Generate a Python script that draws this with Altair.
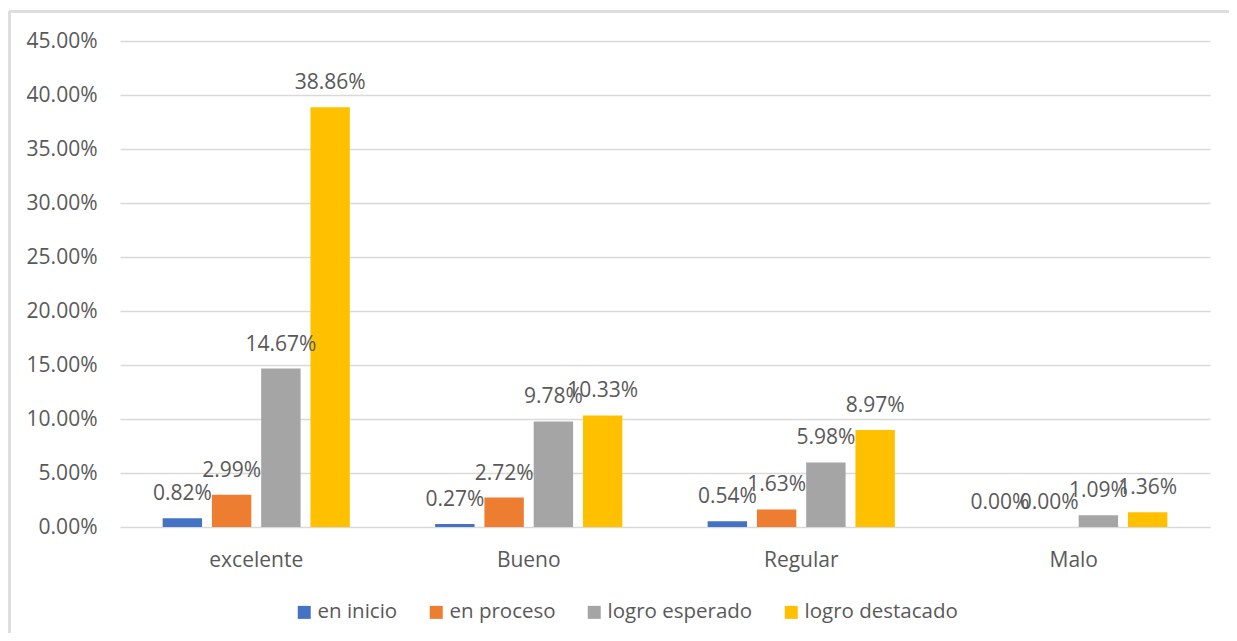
import altair as alt
import pandas as pd

categories = ["excelente", "Bueno", "Regular", "Malo"]
series = ["en inicio", "en proceso", "logro esperado", "logro destacado"]
en_inicio = [0.0082, 0.0027, 0.0054, 0.0]
en_proceso = [0.0299, 0.0272, 0.0163, 0.0]
logro_esperado = [0.1467, 0.0978, 0.0598, 0.0109]
logro_destacado = [0.3886, 0.1033, 0.0897, 0.0136]
colors = ["#4472C4", "#ED7D31", "#A5A5A5", "#FFC000"]
y_ticks = [0, 0.05, 0.10, 0.15, 0.20, 0.25, 0.30, 0.35, 0.40, 0.45]

rows = []
for s, vals in zip(series, [en_inicio, en_proceso, logro_esperado, logro_destacado]):
    for c, v in zip(categories, vals):
        rows.append({"categoria": c, "serie": s, "valor": v})
df = pd.DataFrame(rows)

FONT = "Open Sans"
TXT = "#595959"
GRID = "#D9D9D9"
FS = 21

x_enc = alt.X("categoria:N", sort=categories, title=None,
              scale=alt.Scale(paddingInner=0.313, paddingOuter=0.1565),
              axis=alt.Axis(labelAngle=0, domain=False, ticks=False, labelPadding=22,
                            labelFontSize=FS, labelColor=TXT, labelFont=FONT))
xoff_enc = alt.XOffset("serie:N", sort=series,
                       scale=alt.Scale(paddingInner=0.2, paddingOuter=0))
y_enc = alt.Y("valor:Q", title=None,
              scale=alt.Scale(domain=[0, 0.45], nice=False),
              axis=alt.Axis(values=y_ticks, format=".2%", domain=False, ticks=False,
                            gridColor=GRID, gridWidth=1.5, labelPadding=23,
                            labelFontSize=FS, labelColor=TXT, labelFont=FONT))

bars = alt.Chart(df).mark_bar().encode(
    x=x_enc, xOffset=xoff_enc, y=y_enc,
    color=alt.Color("serie:N", sort=series, title=None,
                    scale=alt.Scale(domain=series, range=colors),
                    legend=alt.Legend(orient="none", legendX=174, legendY=561,
                                      direction="horizontal", symbolType="square",
                                      symbolSize=169, symbolStrokeWidth=0,
                                      labelFontSize=20.5, labelColor=TXT, labelFont=FONT,
                                      labelOffset=3, columnPadding=28, padding=0)),
)

labels = alt.Chart(df).mark_text(baseline="alphabetic", dy=-18, fontSize=FS,
                                 color=TXT, font=FONT).encode(
    x=alt.X("categoria:N", sort=categories), xOffset=xoff_enc,
    y=alt.Y("valor:Q"),
    text=alt.Text("valor:Q", format=".2%"),
)

border_top = alt.Chart(df).mark_rule(color="#DEDEDE", strokeWidth=2).encode(
    x=alt.value(-111), x2=alt.value(1109), y=alt.value(-29.5))
border_left = alt.Chart(df).mark_rule(color="#DEDEDE", strokeWidth=2).encode(
    x=alt.value(-110.5), y=alt.value(-30), y2=alt.value(600))

chart = alt.layer(border_top, border_left, bars, labels).properties(
    width=1090, height=486,
    autosize=alt.AutoSizeParams(type="none"),
    padding={"left": 112, "top": 33, "right": 19, "bottom": 106},
).configure_view(stroke=None)

chart.save("out.html", embed_options={"renderer": "svg", "actions": False})
